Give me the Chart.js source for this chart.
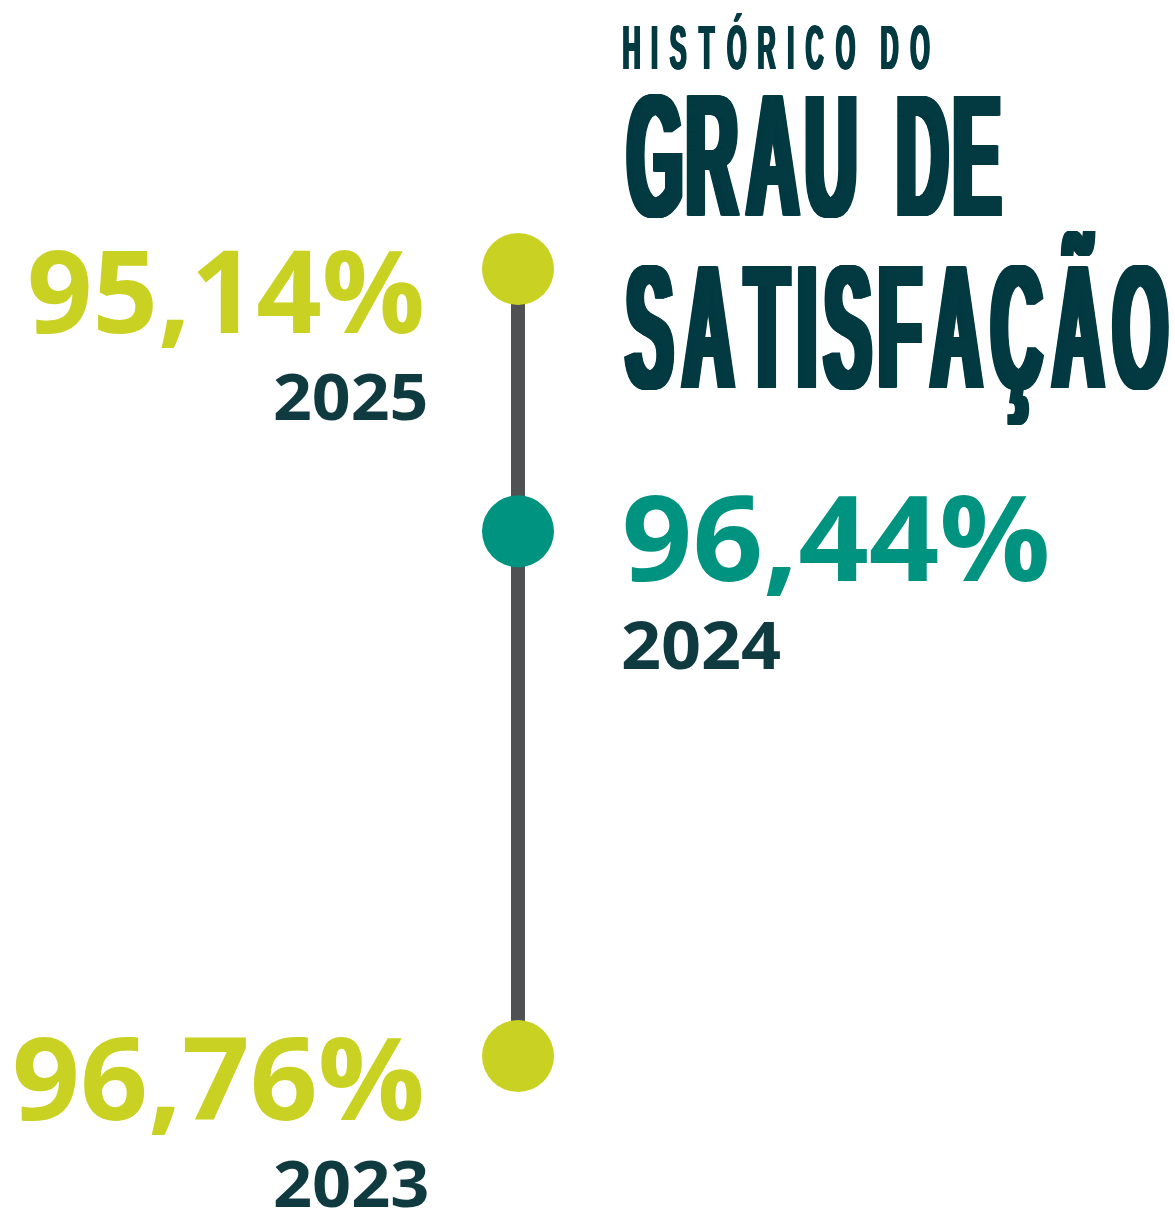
<!DOCTYPE html>
<html>
<head>
<meta charset="utf-8">
<script src="https://cdn.jsdelivr.net/npm/chart.js@4.4.1/dist/chart.umd.min.js"></script>
<style>
  html, body { margin: 0; padding: 0; background: #ffffff; }
  #wrap { width: 1175px; height: 1208px; position: relative; }
</style>
</head>
<body>
<div id="wrap"><canvas id="c"></canvas></div>
<script>
// ---- data ----
const titleLines = ['HISTÓRICO DO', 'GRAU DE', 'SATISFAÇÃO'];
const timelineSlots = ['2025', '2024', '', '2023'];   // empty slot = gap on the timeline
const years = ['2025', '2024', '2023'];
const values = [95.14, 96.44, 96.76];
const valueLabels = values.map(v => v.toFixed(2).replace('.', ',') + '%');

// ---- styles ----
const LIME = '#c9d223';
const TEAL = '#00937f';
const DARK = '#0f3a40';
const TITLE = '#033a42';
const LINE = '#505153';
const pointColors = [LIME, TEAL, LIME];

const ctxCanvas = document.getElementById('c');

function capRatio(ctx, weight, family) {
  ctx.font = `${weight} 100px ${family}`;
  return ctx.measureText('H').actualBoundingBoxAscent / 100;
}

// Draw text so that its ink box fits: cap height capH, baseline, left..right
function drawFit(ctx, text, o) {
  const size = o.capH / capRatio(ctx, o.weight, o.family);
  ctx.font = `${o.weight} ${size}px ${o.family}`;
  const m = ctx.measureText(text);
  const inkW = m.actualBoundingBoxLeft + m.actualBoundingBoxRight;
  const sx = (o.right - o.left) / inkW;
  ctx.save();
  ctx.fillStyle = o.color;
  ctx.textBaseline = 'alphabetic';
  ctx.textAlign = 'left';
  ctx.translate(o.left, o.baseline);
  ctx.scale(sx, 1);
  ctx.fillText(text, m.actualBoundingBoxLeft, 0);
  ctx.restore();
}

// Condensed, tracked title line drawn glyph by glyph
function drawTracked(ctx, text, o) {
  const size = o.capH / capRatio(ctx, o.weight, o.family);
  ctx.font = `${o.weight} ${size}px ${o.family}`;
  ctx.textBaseline = 'alphabetic';
  ctx.textAlign = 'left';
  const chars = [...text];
  const glyphs = chars.map(ch => {
    if (ch === ' ') return { ch, space: true };
    const m = ctx.measureText(ch);
    return { ch, left: m.actualBoundingBoxLeft, w: (m.actualBoundingBoxLeft + m.actualBoundingBoxRight) * o.sx + o.faux };
  });
  const real = glyphs.filter(g => !g.space);
  const nSpaces = glyphs.length - real.length;
  const sumW = real.reduce((a, g) => a + g.w, 0);
  const gap = ((o.right - o.left) - sumW - nSpaces * o.spaceW) / (real.length - 1);
  let x = o.left;
  ctx.save();
  ctx.fillStyle = o.color;
  let first = true;
  glyphs.forEach(g => {
    if (g.space) { x += o.spaceW; return; }
    if (!first) x += gap;
    first = false;
    const steps = Math.max(1, Math.ceil(o.faux * 2));
    for (let k = 0; k <= steps; k++) {
      ctx.save();
      ctx.translate(x + o.faux * k / steps, o.baseline);
      ctx.scale(o.sx, 1);
      ctx.fillText(g.ch, g.left, 0);
      ctx.restore();
    }
    x += g.w;
  });
  ctx.restore();
}

const labelPlugin = {
  id: 'timelineLabels',
  afterDatasetsDraw(chart) {
    const ctx = chart.ctx;
    const meta = chart.getDatasetMeta(0);
    const TF = '"Liberation Sans Narrow", "Liberation Sans", sans-serif';
    const NF = '"Open Sans", "Noto Sans", sans-serif';

    // title
    drawTracked(ctx, titleLines[0], { family: TF, weight: 700, capH: 44, baseline: 69, left: 623, right: 930, sx: 0.4, faux: 2, spaceW: 14, color: TITLE });
    drawTracked(ctx, titleLines[1], { family: TF, weight: 700, capH: 122, baseline: 216, left: 626, right: 1002, sx: 0.41, faux: 8, spaceW: 36, color: TITLE });
    drawTracked(ctx, titleLines[2], { family: TF, weight: 700, capH: 123, baseline: 388, left: 624, right: 1169, sx: 0.40, faux: 8, spaceW: 0, color: TITLE });

    // value / year labels next to each point
    const layout = {
      '2025': { vL: 30,  vR: 422,  vTop: -19, vBase: 64, yL: 275, yR: 426, yTop: 104, yBase: 151 },
      '2024': { vL: 625, vR: 1047, vTop: -35, vBase: 50, yL: 623, yR: 780, yTop: 90,  yBase: 138 },
      '2023': { vL: 15,  vR: 422,  vTop: -19, vBase: 64, yL: 275, yR: 427, yTop: 104, yBase: 151 }
    };
    years.forEach((yr, i) => {
      const idx = timelineSlots.indexOf(yr);
      const pt = meta.data[idx];
      const L = layout[yr];
      const py = pt.y;
      drawFit(ctx, valueLabels[i], { family: NF, weight: 700, capH: L.vBase - L.vTop, baseline: py + L.vBase, left: L.vL, right: L.vR, color: pointColors[i] });
      drawFit(ctx, yr, { family: NF, weight: 700, capH: L.yBase - L.yTop, baseline: py + L.yBase, left: L.yL, right: L.yR, color: DARK });
    });
  }
};

const slotColors = timelineSlots.map(s => s ? pointColors[years.indexOf(s)] : 'rgba(0,0,0,0)');

new Chart(ctxCanvas, {
  type: 'line',
  data: {
    labels: timelineSlots,
    datasets: [{
      data: timelineSlots.map(s => s ? 0 : null),
      spanGaps: true,
      borderColor: LINE,
      borderWidth: 14,
      borderCapStyle: 'butt',
      pointRadius: timelineSlots.map(s => s ? 36 : 0),
      pointHoverRadius: timelineSlots.map(s => s ? 36 : 0),
      pointBackgroundColor: slotColors,
      pointBorderWidth: 0,
      clip: false
    }]
  },
  options: {
    indexAxis: 'y',
    responsive: true,
    maintainAspectRatio: false,
    animation: false,
    events: [],
    layout: { autoPadding: false, padding: { top: 269, bottom: 152, left: 0, right: 139 } },
    plugins: { legend: { display: false }, tooltip: { enabled: false } },
    scales: {
      x: { type: 'linear', min: -1, max: 1, display: false },
      y: { type: 'category', offset: false, display: false }
    }
  },
  plugins: [labelPlugin]
});
</script>
</body>
</html>
